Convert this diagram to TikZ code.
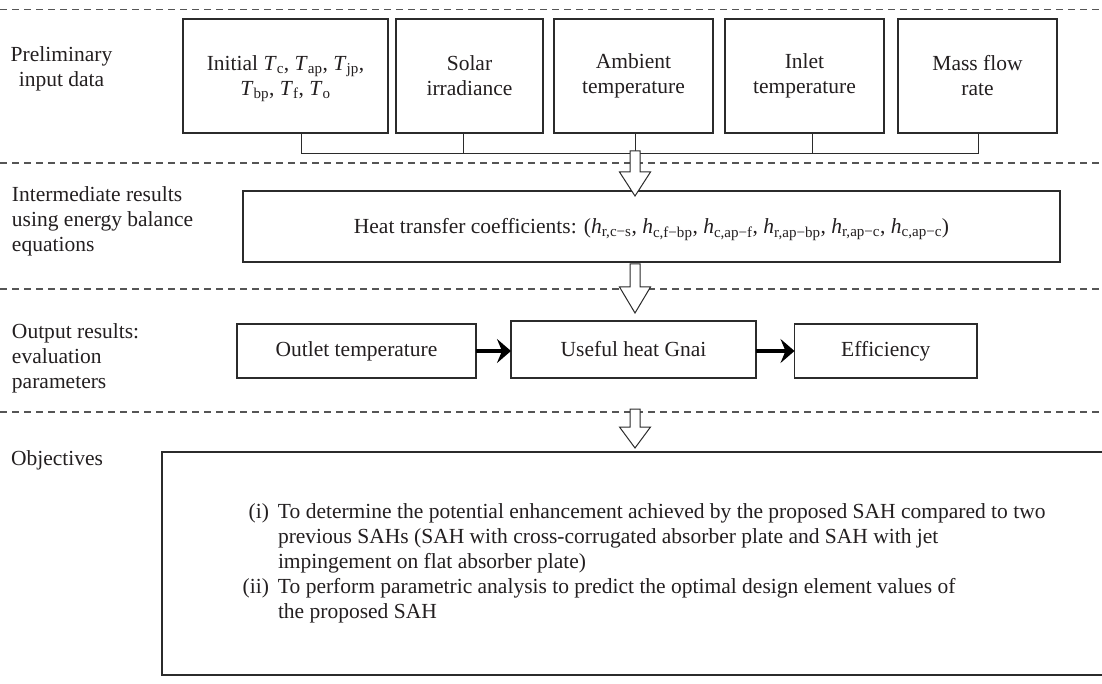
\documentclass[tikz,border=0pt]{standalone}
\usepackage{fontspec}
\setmainfont{Liberation Serif}
\usetikzlibrary{calc,arrows.meta}
\definecolor{txt}{HTML}{231F20}
\definecolor{linecol}{HTML}{2B2B2B}
\definecolor{dashcol}{HTML}{555555}
\newcommand\Tv[1]{\textit{T}\textsubscript{#1}}
\newcommand\hv[1]{\textit{h}\textsubscript{#1}}
\newcommand\hollowarr[3]{%
  \filldraw[hollowarrow] let \p1=(#1), \p2=(#2) in
    (\x1-5pt,\y1) -- (\x1+5pt,\y1) -- (\x1+5pt,\y2+#3) -- (\x1+15.5pt,\y2+#3)
    -- (\x1,\y2) -- (\x1-15.5pt,\y2+#3) -- (\x1-5pt,\y2+#3) -- cycle;}
\begin{document}
\begin{tikzpicture}[x=1pt,y=-1pt,
  every node/.style={font=\fontsize{21.5}{25}\selectfont, text=txt},
  box/.style={draw=linecol, line width=1.1pt, inner sep=0pt, outer sep=0pt, align=center},
  divider/.style={draw=dashcol, line width=1.1pt, dash pattern=on 7pt off 5pt},
  link/.style={draw=linecol, line width=1pt},
  hollowarrow/.style={draw=linecol, fill=white, line width=1pt, line join=miter},
  fatarrow/.style={draw=black, line width=4pt, -{Stealth[length=14pt,width=24pt,inset=5pt]}},
  rowlabel/.style={inner sep=0pt, outer sep=0pt, align=left, anchor=north west},
]
\useasboundingbox (0,0) rectangle (1102,684);
\fill[white] (0,0) rectangle (1102,684);
\clip (0,0) rectangle (1102,684);

% dividers
\draw[divider] (0,9.5) -- (1102,9.5);
\draw[divider] (0,163) -- (1102,163);
\draw[divider] (0,289) -- (1102,289);
\draw[divider] (0,412) -- (1102,412);

% row labels
\node[rowlabel, align=center, anchor=north] (l1) at (61.5,47) {Preliminary\\input data};
\node[rowlabel] (l2) at (12,187) {Intermediate results\\using energy balance\\equations};
\node[rowlabel] (l3) at (12,324) {Output results:\\evaluation\\parameters};
\node[rowlabel] (l4) at (11,451) {Objectives};

% input boxes
\node[box, minimum width=205pt, minimum height=114pt] (b1) at (285.5,76)
  {\raisebox{-2.5pt}[\height][\depth]{\shortstack{Initial \Tv{c}, \Tv{ap}, \Tv{jp},\\[2pt]\Tv{bp}, \Tv{f}, \Tv{o}}}};
\node[box, minimum width=147pt, minimum height=114pt] (b2) at (469.5,76) {Solar\\irradiance};
\node[box, minimum width=159pt, minimum height=114pt] (b3) at (633.5,76) {Ambient\\temperature};
\node[box, minimum width=159pt, minimum height=114pt] (b4) at (804.5,76) {Inlet\\temperature};
\node[box, minimum width=159pt, minimum height=114pt] (b5) at (977.5,76) {Mass flow\\rate};

\coordinate (s1) at (301,154);
\coordinate (s2) at (463,154);
\coordinate (J)  at (635,154);
\coordinate (s4) at (812,154);
\coordinate (s5) at (978,154);
\draw[link] (b1.south -| s1) -- (s1);
\draw[link] (b2.south -| s2) -- (s2);
\draw[link] (b3.south -| J) -- (J);
\draw[link] (b4.south -| s4) -- (s4);
\draw[link] (b5.south -| s5) -- (s5);
\draw[link] (s1) -- (s5);

% intermediate
\node[box, minimum width=817pt, minimum height=71pt] (heat) at (651.5,226.5)
  {\raisebox{-3pt}[\height][\depth]{Heat transfer coefficients: (\hv{r,c−s}, \hv{c,f−bp}, \hv{c,ap−f}, \hv{r,ap−bp}, \hv{r,ap−c}, \hv{c,ap−c})}};

% outputs
\node[box, minimum width=239pt, minimum height=54pt] (outlet) at (356.5,351) {Outlet temperature};
\node[box, minimum width=245pt, minimum height=57pt] (useful) at (633.5,349.5) {Useful heat Gnai};
\node[box, minimum width=182.5pt, minimum height=54pt] (eff) at (885.75,351) {Efficiency};

% objectives
\node[box, minimum width=944pt, minimum height=223pt, anchor=north west] (obj) at (162,452) {};
\node[rowlabel] (objtext) at (278,503.5)
  {\makebox[0pt][r]{(i)\hspace{9pt}}To determine the potential enhancement achieved by the proposed SAH compared to two\\
   previous SAHs (SAH with cross-corrugated absorber plate and SAH with jet\\
   impingement on flat absorber plate)\\
   \makebox[0pt][r]{(ii)\hspace{9pt}}To perform parametric analysis to predict the optimal design element values of\\
   the proposed SAH};

% hollow arrows
\hollowarr{$(J)+(0,-3)$}{$(J |- heat.north)+(0,5)$}{24pt}
\hollowarr{$(J |- heat.south)+(0,2)$}{$(J |- useful.north)+(0,-8)$}{26pt}
\coordinate (a3) at (635,409);
\hollowarr{a3}{$(J |- obj.north)+(0,-4)$}{21pt}

% fat arrows
\draw[fatarrow] (outlet.east) -- (outlet.east -| useful.west);
\draw[fatarrow] (useful.east |- eff.west) -- (eff.west);
\end{tikzpicture}
\end{document}
